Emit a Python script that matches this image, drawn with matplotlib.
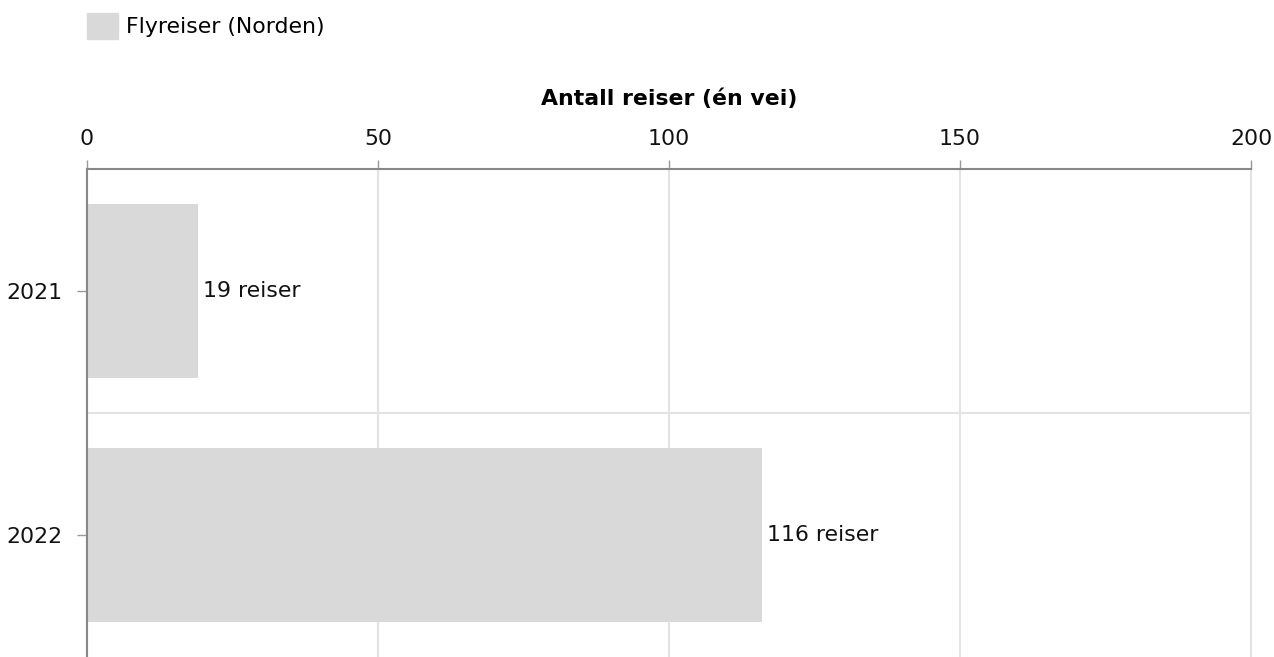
import matplotlib.pyplot as plt
import matplotlib.patches as mpatches
from matplotlib.ticker import FixedLocator

years = ['2021', '2022']
trips = [19, 116]
bar_labels = ['19 reiser', '116 reiser']
series_name = 'Flyreiser (Norden)'
x_title = 'Antall reiser (én vei)'
x_ticks = [0, 50, 100, 150, 200]

plt.rcParams['font.family'] = ['DejaVu Sans']
fs = 15.8

fig = plt.figure(figsize=(12.74, 6.57), dpi=100)
ax = fig.add_axes([87 / 1274, 0.0, (1251 - 87) / 1274, (657 - 169) / 657])

bar_color = '#d9d9d9'
ypos = list(range(len(years)))
ax.barh(ypos, trips, height=0.71, color=bar_color, zorder=2)

for y, v, lab in zip(ypos, trips, bar_labels):
    ax.text(v + 0.9, y, lab, va='center', ha='left', fontsize=fs, color='#111111', zorder=3)

ax.set_xlim(0, 200)
ax.set_ylim(1.5, -0.5)

ax.xaxis.tick_top()
ax.xaxis.set_label_position('top')
ax.set_xticks(x_ticks)
ax.set_xticklabels([str(t) for t in x_ticks])
ax.set_xlabel(x_title, fontsize=fs, fontweight='bold', labelpad=17.5)

ax.set_yticks(ypos)
ax.set_yticklabels(years)
ax.yaxis.set_minor_locator(FixedLocator([0.5]))

ax.tick_params(axis='x', which='major', direction='out', length=6.5, width=1,
               color='#999999', labelsize=fs, pad=8, labelcolor='#111111')
ax.tick_params(axis='y', which='major', direction='out', length=7, width=1,
               color='#999999', labelsize=fs, pad=10.5, labelcolor='#111111')
ax.tick_params(axis='y', which='minor', length=0)

ax.grid(axis='x', which='major', color='#e3e3e3', linewidth=1.5, zorder=0)
ax.grid(axis='y', which='minor', color='#e3e3e3', linewidth=1.5, zorder=0)
ax.set_axisbelow(True)
for gl in ax.get_xgridlines():
    gl.set_clip_on(False)

for side in ['right', 'bottom']:
    ax.spines[side].set_visible(False)
for side in ['top', 'left']:
    ax.spines[side].set_color('#888888')
    ax.spines[side].set_linewidth(1.5)

handle = mpatches.Patch(color=bar_color, label=series_name)
fig.legend(handles=[handle], loc='upper left', bbox_to_anchor=(78 / 1274, 1 - 4 / 657),
           frameon=False, fontsize=fs, handlelength=1.4, handleheight=1.45,
           handletextpad=0.4, borderaxespad=0)

fig.savefig('out.png', dpi=100)
